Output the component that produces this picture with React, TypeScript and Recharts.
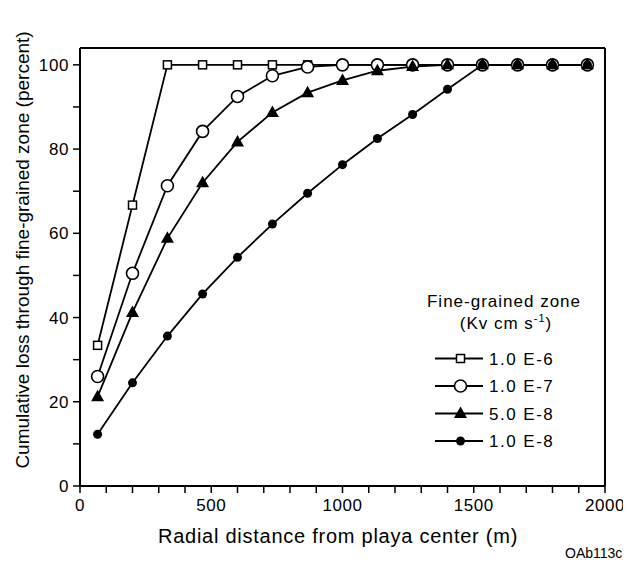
import { LineChart, Line, XAxis, YAxis, ReferenceLine, Legend } from 'recharts'

const distance = [67, 200, 333, 467, 600, 733, 867, 1000, 1133, 1267, 1400, 1533, 1667, 1800, 1933]
const kv1e6 = [33.4, 66.7, 100, 100, 100, 100, 100, 100, 100, 100, 100, 100, 100, 100, 100]
const kv1e7 = [26, 50.5, 71.3, 84.2, 92.5, 97.4, 99.5, 100, 100, 100, 100, 100, 100, 100, 100]
const kv5e8 = [21.2, 41.2, 58.8, 72, 81.7, 88.7, 93.4, 96.3, 98.6, 99.6, 100, 100, 100, 100, 100]
const kv1e8 = [12.3, 24.5, 35.6, 45.6, 54.3, 62.2, 69.5, 76.3, 82.5, 88.2, 94.2, 100, 100, 100, 100]

const xTicks = [0, 100, 200, 300, 400, 500, 600, 700, 800, 900, 1000, 1100, 1200, 1300, 1400, 1500, 1600, 1700, 1800, 1900, 2000]
const yTicks = [0, 10, 20, 30, 40, 50, 60, 70, 80, 90, 100]
const legendLabels = ['1.0 E-6', '1.0 E-7', '5.0 E-8', '1.0 E-8']

const data = distance.map((d, i) => ({
  d,
  a: kv1e6[i],
  b: kv1e7[i],
  c: kv5e8[i],
  e: kv1e8[i],
}))

const font = '"Liberation Sans", Arial, Helvetica, sans-serif'

// marker shapes, drawn at (cx, cy)
function Square({ cx, cy }: { cx: number; cy: number }) {
  return <rect x={cx - 4} y={cy - 4} width={8} height={8} fill="#fff" stroke="#000" strokeWidth={1.5} />
}
function Circle({ cx, cy }: { cx: number; cy: number }) {
  return <circle cx={cx} cy={cy} r={6} fill="#fff" stroke="#000" strokeWidth={1.6} />
}
function Tri({ cx, cy }: { cx: number; cy: number }) {
  return <polygon points={`${cx},${cy - 7} ${cx - 6.5},${cy + 4.5} ${cx + 6.5},${cy + 4.5}`} fill="#000" />
}
function Dot({ cx, cy }: { cx: number; cy: number }) {
  return <circle cx={cx} cy={cy} r={4.5} fill="#000" />
}

const markers = [Square, Circle, Tri, Dot]

function dotFor(M: typeof Square) {
  return (p: any) => <M key={p.index} cx={p.cx} cy={p.cy} />
}

function LegendBox() {
  const rows = [70.5, 98, 125.5, 153]
  return (
    <svg width={180} height={170} style={{ fontFamily: font }}>
      <text x={86} y={18.5} textAnchor="middle" fontSize={17} letterSpacing={1}>Fine-grained zone</text>
      <text x={88} y={41} textAnchor="middle" fontSize={17} letterSpacing={1}>
        (Kv cm s<tspan fontSize={11} dy={-7}>-1</tspan><tspan dy={7}>)</tspan>
      </text>
      {rows.map((y, i) => {
        const M = markers[i]
        return (
          <g key={i}>
            <line x1={17} x2={65} y1={y} y2={y} stroke="#000" strokeWidth={1.8} />
            <M cx={42.5} cy={y} />
            <text x={71} y={y + 6} fontSize={17} letterSpacing={1.5}>{legendLabels[i]}</text>
          </g>
        )
      })}
    </svg>
  )
}

export default function App() {
  const tickStyle = { fontSize: 17, fill: '#000', fontFamily: font, letterSpacing: 0.6 }
  return (
    <div style={{ position: 'relative', width: 615, height: 550 }}>
      <LineChart width={623} height={550} data={data} margin={{ top: 40, right: 26, bottom: 0, left: 0 }}>
        <XAxis
          dataKey="d"
          type="number"
          domain={[0, 2000]}
          ticks={xTicks}
          interval={0}
          height={72}
          tickSize={7}
          tickMargin={6}
          tick={tickStyle}
          tickFormatter={(v: number) => (v % 500 === 0 ? String(v) : '')}
          axisLine={{ stroke: '#000', strokeWidth: 2 }}
          tickLine={{ stroke: '#000', strokeWidth: 1.5 }}
          label={() => (
            <text x={330} y={535} textAnchor="middle" fontSize={20} letterSpacing={0.75} fontFamily={font} fill="#000">
              Radial distance from playa center (m)
            </text>
          )}
        />
        <YAxis
          type="number"
          domain={[0, 104]}
          ticks={yTicks}
          interval={0}
          width={72}
          tickSize={7}
          tickMargin={4}
          tick={tickStyle}
          tickFormatter={(v: number) => (v % 20 === 0 ? String(v) : '')}
          axisLine={{ stroke: '#000', strokeWidth: 2 }}
          tickLine={{ stroke: '#000', strokeWidth: 1.5 }}
          label={() => (
            <text
              x={14}
              y={242}
              textAnchor="middle"
              fontSize={19}
              fontFamily={font}
              fill="#000"
              transform="rotate(-90 14 242)"
              dominantBaseline="central"
            >
              Cumulative loss through fine-grained zone (percent)
            </text>
          )}
        />
        <ReferenceLine y={104} stroke="#000" strokeWidth={2} />
        <ReferenceLine x={2000} stroke="#000" strokeWidth={2} />
        <Line dataKey="a" stroke="#000" strokeWidth={1.8} dot={dotFor(Square)} isAnimationActive={false} />
        <Line dataKey="b" stroke="#000" strokeWidth={1.8} dot={dotFor(Circle)} isAnimationActive={false} />
        <Line dataKey="c" stroke="#000" strokeWidth={1.8} dot={dotFor(Tri)} isAnimationActive={false} />
        <Line dataKey="e" stroke="#000" strokeWidth={1.8} dot={dotFor(Dot)} isAnimationActive={false} />
        <Legend
          layout="vertical"
          align="center"
          verticalAlign="middle"
          content={() => <LegendBox />}
          wrapperStyle={{ position: 'absolute', left: 410, top: 280, width: 180, height: 170 }}
        />
      </LineChart>
      <div
        style={{
          position: 'absolute',
          left: 557,
          top: 537,
          fontFamily: font,
          fontSize: 14,
          color: '#000',
          whiteSpace: 'nowrap',
        }}
      >
        QAb113c
      </div>
    </div>
  )
}
